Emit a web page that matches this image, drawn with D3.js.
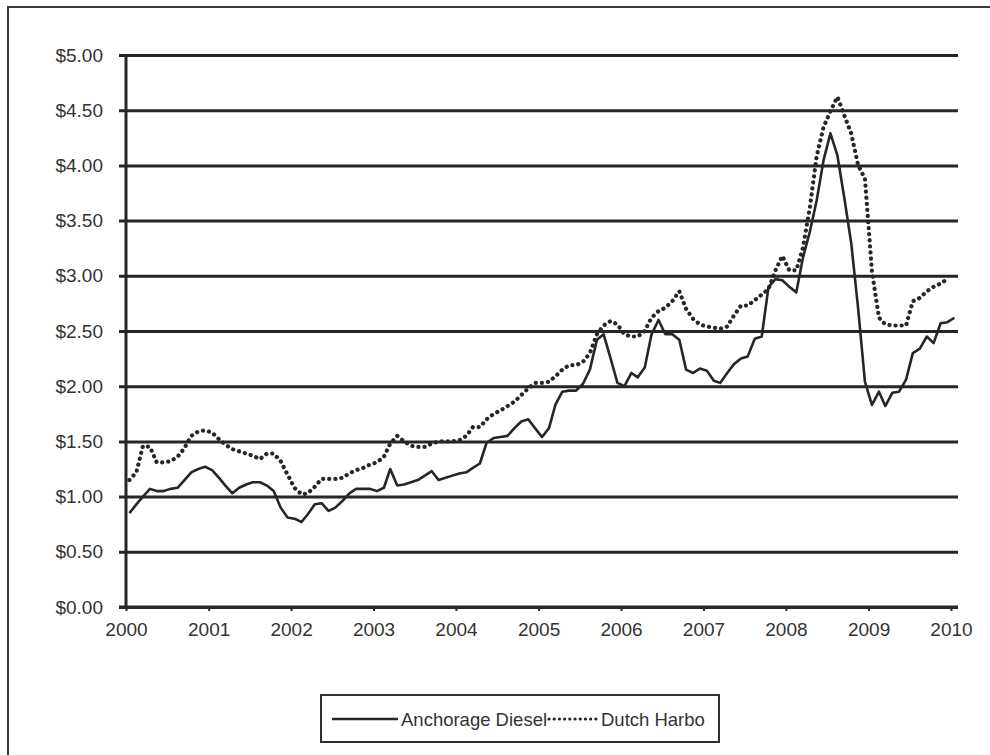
<!DOCTYPE html>
<html>
<head>
<meta charset="utf-8">
<script src="https://d3js.org/d3.v7.min.js"></script>
<style>
  body { margin: 0; background: #fff; }
  svg { display: block; font-family: "Liberation Sans", Arial, sans-serif; }
</style>
</head>
<body>
<svg id="chart" width="990" height="755"></svg>
<script>
// monthly prices, first value is January 2000 (plotted mid month)
var startYear = 2000;

var anchorageDiesel = [
  0.85, 0.93, 1.00, 1.07, 1.05, 1.05, 1.07, 1.08, 1.15, 1.22, 1.25, 1.27,
  1.24, 1.17, 1.10, 1.03, 1.08, 1.11, 1.13, 1.13, 1.10, 1.05, 0.90, 0.81,
  0.80, 0.77, 0.84, 0.93, 0.94, 0.87, 0.90, 0.96, 1.03, 1.07, 1.07, 1.07,
  1.05, 1.08, 1.25, 1.10, 1.11, 1.13, 1.15, 1.19, 1.23, 1.15, 1.17, 1.19,
  1.21, 1.22, 1.26, 1.30, 1.49, 1.53, 1.54, 1.55, 1.62, 1.68, 1.70, 1.62,
  1.54, 1.62, 1.83, 1.95, 1.96, 1.96, 2.02, 2.15, 2.42, 2.47, 2.25, 2.03,
  2.00, 2.12, 2.08, 2.17, 2.47, 2.60, 2.47, 2.47, 2.42, 2.15, 2.12, 2.16,
  2.14, 2.05, 2.03, 2.12, 2.20, 2.25, 2.27, 2.43, 2.45, 2.90, 2.97, 2.96,
  2.90, 2.85, 3.16, 3.40, 3.68, 4.05, 4.29, 4.09, 3.70, 3.30, 2.70, 2.04,
  1.83, 1.95, 1.82, 1.94, 1.95, 2.06, 2.30, 2.34, 2.45, 2.39, 2.57, 2.58,
  2.62
];

var dutchHarbor = [
  1.15, 1.22, 1.46, 1.45, 1.31, 1.31, 1.32, 1.36, 1.44, 1.55, 1.59, 1.60,
  1.58, 1.52, 1.47, 1.43, 1.41, 1.39, 1.37, 1.34, 1.39, 1.39, 1.32, 1.20,
  1.08, 1.02, 1.03, 1.09, 1.16, 1.16, 1.16, 1.17, 1.21, 1.24, 1.26, 1.29,
  1.31, 1.36, 1.48, 1.55, 1.50, 1.46, 1.45, 1.45, 1.48, 1.50, 1.50, 1.50,
  1.51, 1.55, 1.63, 1.63, 1.70, 1.75, 1.78, 1.82, 1.86, 1.92, 1.98, 2.03,
  2.03, 2.04, 2.09, 2.15, 2.19, 2.19, 2.22, 2.30, 2.47, 2.55, 2.59, 2.56,
  2.47, 2.45, 2.45, 2.50, 2.62, 2.68, 2.71, 2.77, 2.86, 2.70, 2.61, 2.56,
  2.54, 2.53, 2.52, 2.54, 2.64, 2.73, 2.73, 2.78, 2.83, 2.88, 3.05, 3.18,
  3.05, 3.05, 3.25, 3.62, 4.08, 4.35, 4.49, 4.62, 4.45, 4.29, 4.00, 3.88,
  3.04, 2.62, 2.56, 2.55, 2.55, 2.55, 2.77, 2.80, 2.86, 2.90, 2.93, 2.97
];

var yTicks = [0, 0.5, 1, 1.5, 2, 2.5, 3, 3.5, 4, 4.5, 5];
var yearTicks = [2000, 2001, 2002, 2003, 2004, 2005, 2006, 2007, 2008, 2009, 2010];
var legendNames = ["Anchorage Diesel", "Dutch Harbo"];

var ink = "#262626";

var svg = d3.select("#chart");

// outer frame, runs off the bottom and right of the page like the scan
svg.append("rect")
  .attr("x", 8).attr("y", 7)
  .attr("width", 1010).attr("height", 780)
  .attr("fill", "none")
  .attr("stroke", "#3a3a3a")
  .attr("stroke-width", 2);

// scales
var x = d3.scaleTime()
  .domain([new Date(2000, 0, 1), new Date(2010, 0, 1)])
  .range([126, 951]);

var y = d3.scaleLinear()
  .domain([0, 5])
  .range([607, 55]);

//turn the month arrays into date / value pairs, each month sits in the middle of its slot
function toPoints(values) {
  return values.map(function (v, i) {
    return {date: new Date(startYear, i, 16), value: v};
  });
}

// horizontal gridlines with the dollar labels
var yAxis = d3.axisLeft(y)
  .tickValues(yTicks)
  .tickFormat(d3.format("$.2f"))
  .tickSize(-(958 - 126))
  .tickPadding(23);

var yG = svg.append("g")
  .attr("transform", "translate(126,0)")
  .call(yAxis);

yG.select(".domain").remove();
yG.selectAll(".tick line")
  .attr("x1", -7)
  .attr("stroke", ink)
  .attr("stroke-width", 3);
yG.selectAll(".tick text")
  .attr("font-size", 19)
  .attr("fill", "#333");

// vertical axis line
svg.append("line")
  .attr("x1", 126).attr("x2", 126)
  .attr("y1", y(5) - 1).attr("y2", y(0) + 1)
  .attr("stroke", ink)
  .attr("stroke-width", 3);

// x axis with year ticks
var xAxis = d3.axisBottom(x)
  .tickValues(yearTicks.map(function (yr) { return new Date(yr, 0, 1); }))
  .tickFormat(d3.timeFormat("%Y"))
  .tickSize(4)
  .tickPadding(12);

var xG = svg.append("g")
  .attr("transform", "translate(0," + y(0) + ")")
  .call(xAxis);

xG.select(".domain").remove();
xG.selectAll(".tick line")
  .attr("stroke", ink)
  .attr("stroke-width", 2);
xG.selectAll(".tick text")
  .attr("font-size", 19)
  .attr("fill", "#333");

svg.append("line")
  .attr("x1", 119).attr("x2", 958)
  .attr("y1", y(0)).attr("y2", y(0))
  .attr("stroke", ink)
  .attr("stroke-width", 3);

// the two price lines
var line = d3.line()
  .x(function (d) { return x(d.date); })
  .y(function (d) { return y(d.value); });

svg.append("path")
  .datum(toPoints(dutchHarbor))
  .attr("d", line)
  .attr("fill", "none")
  .attr("stroke", ink)
  .attr("stroke-width", 4.2)
  .attr("stroke-linecap", "round")
  .attr("stroke-dasharray", "0.1,6");

svg.append("path")
  .datum(toPoints(anchorageDiesel))
  .attr("d", line)
  .attr("fill", "none")
  .attr("stroke", ink)
  .attr("stroke-width", 2.6)
  .attr("stroke-linejoin", "round");

// legend box
var legend = svg.append("g");

legend.append("rect")
  .attr("x", 321).attr("y", 695)
  .attr("width", 398).attr("height", 47)
  .attr("fill", "#fff")
  .attr("stroke", "#2f2f2f")
  .attr("stroke-width", 2);

legend.append("line")
  .attr("x1", 332).attr("x2", 398)
  .attr("y1", 719).attr("y2", 719)
  .attr("stroke", ink)
  .attr("stroke-width", 2.6);

legend.append("text")
  .attr("x", 401).attr("y", 726)
  .attr("font-size", 18.5)
  .attr("fill", "#333")
  .text(legendNames[0]);

legend.append("line")
  .attr("x1", 549).attr("x2", 596)
  .attr("y1", 719).attr("y2", 719)
  .attr("stroke", ink)
  .attr("stroke-width", 3.2)
  .attr("stroke-linecap", "round")
  .attr("stroke-dasharray", "0.1,5.1");

legend.append("text")
  .attr("x", 601).attr("y", 726)
  .attr("font-size", 18.5)
  .attr("fill", "#333")
  .text(legendNames[1]);
</script>
</body>
</html>
